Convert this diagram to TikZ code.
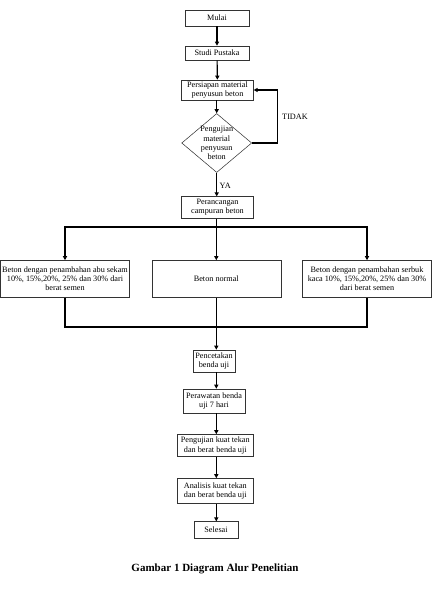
\documentclass[tikz,border=0pt]{standalone}
\usepackage{fontspec}
\setmainfont{Liberation Serif}
\usetikzlibrary{arrows.meta,shapes.geometric}

\tikzset{
	kotak/.style={draw=black!80, line width=0.45pt, rectangle, align=center, inner sep=0pt, font=\fontsize{7}{7.8}\selectfont},
	keputusan/.style={draw=black!80, line width=0.45pt, diamond, inner sep=0pt},
	alir/.style={line width=1pt, -{Triangle[length=3.5pt,width=3.5pt]}},
	garis/.style={line width=1pt},
	teks/.style={font=\fontsize{7}{7.8}\selectfont, align=center, inner sep=0pt}
}

\begin{document}
\begin{tikzpicture}[x=0.03cm, y=-0.03cm]
		%%%%% START %%%%%
		\useasboundingbox (0, 0) rectangle (433, 599);
		
		\node[kotak, minimum width=1.92cm, minimum height=0.48cm] (mulai) at (217, 18) {Mulai};
		\node[kotak, minimum width=1.92cm, minimum height=0.42cm] (studi) at (217, 53) {Studi Pustaka};
		\node[kotak, minimum width=2.15cm, minimum height=0.6cm] (siap) at (217.5, 90) {Persiapan material\\penyusun beton};
		
		\node[keputusan, minimum width=2.1cm, minimum height=1.77cm] (uji) at (216.7, 143) {};
		\node[teks] (ujiteks) at (216.7, 143) {Pengujian\\material\\penyusun\\beton};
		
		\node[kotak, minimum width=2.15cm, minimum height=0.65cm] (rancang) at (217.5, 207.5) {Perancangan\\campuran beton};
		
		\node[kotak, minimum width=3.87cm, minimum height=1.11cm] (abu) at (65, 279) {Beton dengan penambahan abu sekam\\10\%, 15\%,20\%, 25\% dan 30\% dari\\berat semen};
		\node[kotak, minimum width=3.87cm, minimum height=1.11cm] (normal) at (216.3, 279) {Beton normal};
		\node[kotak, minimum width=3.87cm, minimum height=1.11cm] (kaca) at (367, 279) {Beton dengan penambahan serbuk\\kaca 10\%, 15\%,20\%, 25\% dan 30\%\\dari berat semen};
		
		\node[kotak, minimum width=1.26cm, minimum height=0.66cm] (cetak) at (214, 361) {Pencetakan\\benda uji};
		\node[kotak, minimum width=1.86cm, minimum height=0.72cm] (rawat) at (214, 401) {Perawatan benda\\uji 7 hari};
		\node[kotak, minimum width=2.28cm, minimum height=0.66cm] (tekan) at (215.3, 445.5) {Pengujian kuat tekan\\dan berat benda uji};
		\node[kotak, minimum width=2.28cm, minimum height=0.75cm] (analisis) at (215.3, 491) {Analisis kuat tekan\\dan berat benda uji};
		\node[kotak, minimum width=1.32cm, minimum height=0.5cm] (selesai) at (216, 530) {Selesai};
		
		% label cabang
		\node[teks, anchor=west] (tidak) at (282, 117) {TIDAK};
		\node[teks, anchor=west] (ya) at (219.5, 186) {YA};
		
		% alur utama
		\draw[alir] (mulai) -- (studi);
		\draw[alir] (studi) -- (siap);
		\draw[alir] (siap.south -| uji.north) -- (uji.north);
		\coordinate (balik) at (277.3, 0);
		\draw[alir] (uji.east) -| (balik |- siap.east) -- (siap.east);
		\draw[alir] (uji.south) -- (uji.south |- rancang.north);
		
		% percabangan
		\coordinate (bagi) at (216.3, 227);
		\coordinate (gabung) at (216.3, 327);
		\draw[garis] (rancang.south -| bagi) -- (bagi);
		\draw[alir] (bagi) -| (abu.north);
		\draw[alir] (bagi) -| (kaca.north);
		\draw[alir] (bagi) -- (normal.north);
		\draw[garis] (abu.south) |- (gabung) -| (kaca.south);
		\draw[garis] (normal.south) -- (gabung);
		\draw[alir] (gabung) -- (gabung |- cetak.north);
		
		\draw[alir] (cetak.south -| gabung) -- (gabung |- rawat.north);
		\draw[alir] (rawat.south -| gabung) -- (gabung |- tekan.north);
		\draw[alir] (tekan.south -| gabung) -- (gabung |- analisis.north);
		\draw[alir] (analisis.south -| gabung) -- (gabung |- selesai.north);
		
		\node[font=\fontsize{9.4}{11}\selectfont\bfseries] (judul) at (215, 569) {Gambar 1 Diagram Alur Penelitian};
		%%%%% END %%%%%
\end{tikzpicture}
\end{document}
